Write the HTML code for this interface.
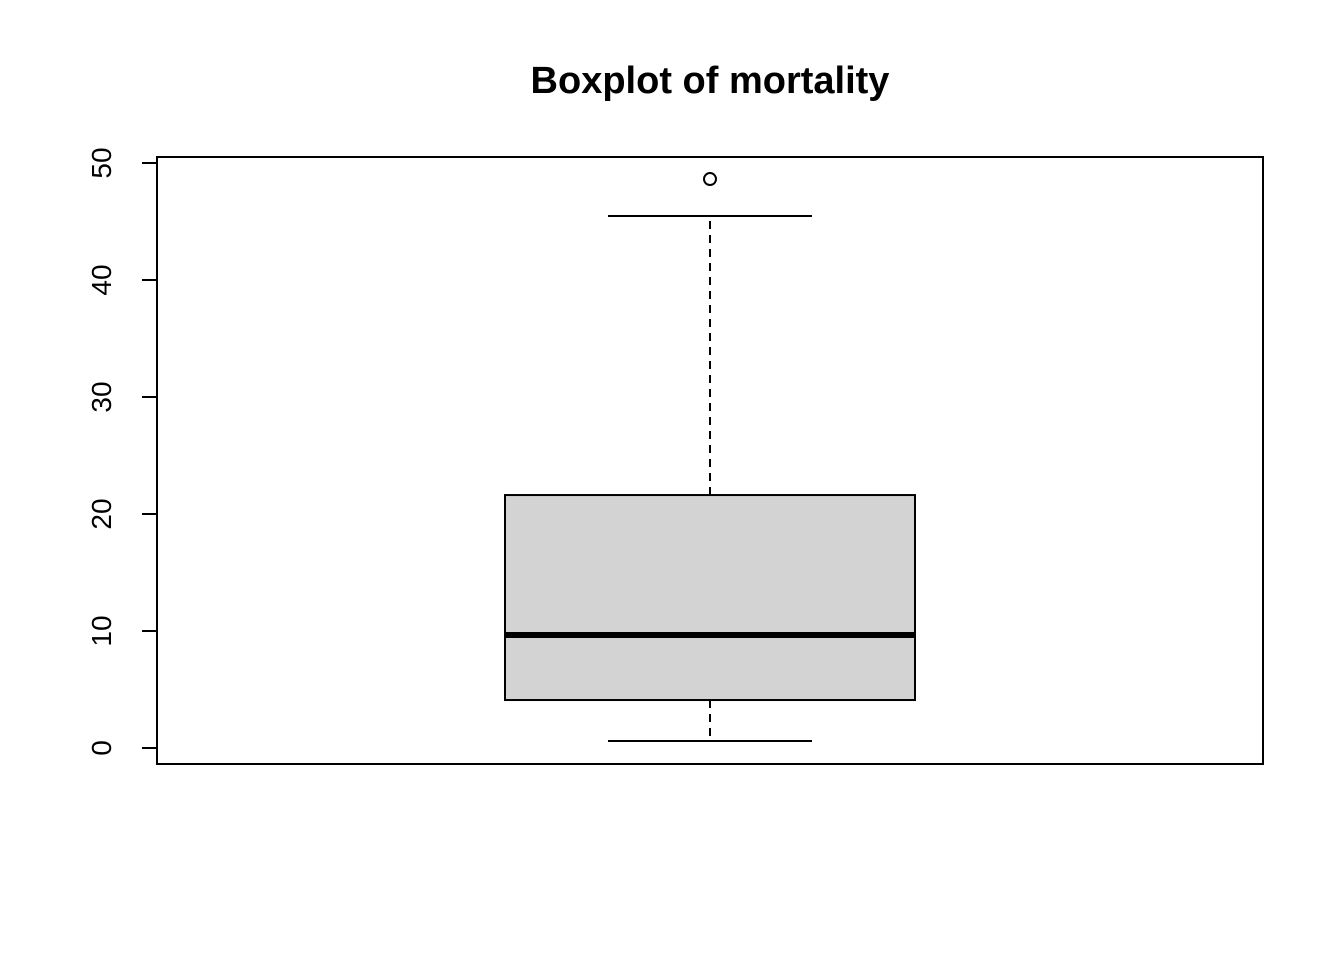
<!DOCTYPE html>
<html><head><meta charset="utf-8"><style>
html,body{margin:0;padding:0;background:#fff;}
svg{display:block;font-family:"Liberation Sans",Arial,sans-serif;}
</style></head><body>
<svg id="chart" width="1344" height="960">
<text x="710" y="93" text-anchor="middle" font-size="38" font-weight="bold">Boxplot of mortality</text>
<rect x="157" y="157" width="1106" height="607" fill="none" stroke="#000" stroke-width="2"/>
<g id="yaxis"></g>
<g id="marks"></g>
</svg>
<script>
const tickValues = [0, 10, 20, 30, 40, 50];
const tickLabels = ["0", "10", "20", "30", "40", "50"];
const whiskerLow = [0.6];
const quartile1 = [4.1];
const medianValue = [9.66];
const quartile3 = [21.62];
const whiskerHigh = [45.47];
const outliers = [48.63];

const NS = "http://www.w3.org/2000/svg";
function y(v){ return 748 - v * 11.7; }
function mk(tag, attrs, parent){
  const e = document.createElementNS(NS, tag);
  for (const k in attrs) e.setAttribute(k, attrs[k]);
  parent.appendChild(e); return e;
}
const ax = document.getElementById("yaxis");
tickValues.forEach((v, i) => {
  const t = mk("line", {x1:142, x2:157, y1:y(v), y2:y(v), stroke:"#000", "stroke-width":2}, ax);
  
  
  const l = mk("text", {x:0, y:0, "font-size":28, "text-anchor":"middle", transform:`translate(111,${y(v)}) rotate(-90)`}, ax);
  l.textContent = tickLabels[i];
  
  
});
const g = document.getElementById("marks");
const cx = 710, bl = 505, br = 915, wl = 608, wr = 812;
const w1 = mk("line", {x1:cx, x2:cx, y1:y(quartile3[0]), y2:y(whiskerHigh[0]), stroke:"#000", "stroke-width":2, "stroke-dasharray":"8,6"}, g);


const w2 = mk("line", {x1:cx, x2:cx, y1:y(quartile1[0]), y2:y(whiskerLow[0]), stroke:"#000", "stroke-width":2, "stroke-dasharray":"8,6"}, g);


const c1 = mk("line", {x1:wl, x2:wr, y1:y(whiskerHigh[0]), y2:y(whiskerHigh[0]), stroke:"#000", "stroke-width":2}, g);


const c2 = mk("line", {x1:wl, x2:wr, y1:y(whiskerLow[0]), y2:y(whiskerLow[0]), stroke:"#000", "stroke-width":2}, g);


const box = mk("rect", {x:bl, y:y(quartile3[0]), width:br-bl, height:y(quartile1[0])-y(quartile3[0]), fill:"#d3d3d3", stroke:"#000", "stroke-width":2}, g);


const med = mk("line", {x1:bl, x2:br, y1:y(medianValue[0]), y2:y(medianValue[0]), stroke:"#000", "stroke-width":6}, g);


outliers.forEach(v => {
  const o = mk("circle", {cx:cx, cy:y(v), r:6, fill:"none", stroke:"#000", "stroke-width":2}, g);
  
  
});
</script>
</body></html>
